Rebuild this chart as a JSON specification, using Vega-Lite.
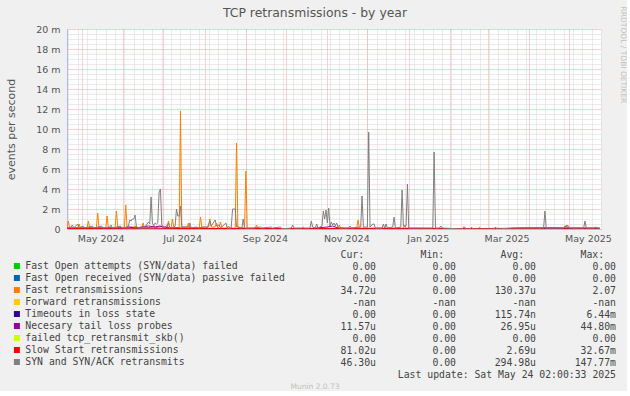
{
  "$schema": "https://vega.github.io/schema/vega-lite/v6.json",
  "background": "#f0f0f0",
  "padding": {"left": 5, "top": 6, "right": 0, "bottom": 0},
  "spacing": 6,
  "title": {"text": "RRDTOOL / TOBI OETIKER", "orient": "right", "anchor": "start", "fontSize": 7.5, "fontWeight": "normal", "color": "#c0c0c0", "offset": 2},
  "config": {
    "view": {"stroke": null},
    "font": "DejaVu Sans",
    "axis": {"labelFont": "DejaVu Sans", "titleFont": "DejaVu Sans"},
    "title": {"font": "DejaVu Sans"}
  },
  "datasets": {
    "fr": [
      {"t":"2024-04-20","v":0.0001},{"t":"2024-04-21","v":0.0008},{"t":"2024-04-22","v":0.0001},
      {"t":"2024-04-28","v":0.0001},{"t":"2024-04-29","v":0.0005},{"t":"2024-04-30","v":0.0001},
      {"t":"2024-05-05","v":0.0001},{"t":"2024-05-06","v":0.0008},{"t":"2024-05-07","v":0.0001},
      {"t":"2024-05-12","v":0.0001},{"t":"2024-05-13","v":0.0016},{"t":"2024-05-14","v":0.0001},
      {"t":"2024-05-19","v":0.0001},{"t":"2024-05-20","v":0.0013},{"t":"2024-05-21","v":0.0001},
      {"t":"2024-05-26","v":0.0001},{"t":"2024-05-27","v":0.0018},{"t":"2024-05-28","v":0.0002},
      {"t":"2024-06-02","v":0.0001},{"t":"2024-06-03","v":0.0024},{"t":"2024-06-04","v":0.0002},
      {"t":"2024-06-09","v":0.0002},{"t":"2024-06-10","v":0.0003},{"t":"2024-06-11","v":0.0001},
      {"t":"2024-06-15","v":0.0001},{"t":"2024-06-16","v":0.0006},{"t":"2024-06-17","v":0.0001},
      {"t":"2024-06-23","v":0.0002},{"t":"2024-06-24","v":0.0004},{"t":"2024-06-25","v":0.0001},
      {"t":"2024-06-30","v":0.0003},{"t":"2024-07-01","v":0.0001},
      {"t":"2024-07-04","v":0.0001},{"t":"2024-07-05","v":0.0008},{"t":"2024-07-06","v":0.0001},
      {"t":"2024-07-07","v":0.0001},{"t":"2024-07-08","v":0.0010},{"t":"2024-07-09","v":0.0002},
      {"t":"2024-07-13","v":0.0001},{"t":"2024-07-14","v":0.0118},{"t":"2024-07-15","v":0.0002},
      {"t":"2024-07-19","v":0.0002},{"t":"2024-07-20","v":0.0006},{"t":"2024-07-21","v":0.0001},
      {"t":"2024-07-28","v":0.0001},{"t":"2024-07-29","v":0.0012},{"t":"2024-07-30","v":0.0002},
      {"t":"2024-08-04","v":0.0002},{"t":"2024-08-05","v":0.0010},{"t":"2024-08-06","v":0.0002},
      {"t":"2024-08-09","v":0.0002},{"t":"2024-08-10","v":0.0006},{"t":"2024-08-11","v":0.0001},
      {"t":"2024-08-12","v":0.0002},{"t":"2024-08-13","v":0.0007},{"t":"2024-08-14","v":0.0001},
      {"t":"2024-08-18","v":0.0001},{"t":"2024-08-19","v":0.0003},{"t":"2024-08-20","v":0.0001},
      {"t":"2024-08-24","v":0.0001},{"t":"2024-08-25","v":0.0086},{"t":"2024-08-26","v":0.0002},
      {"t":"2024-08-31","v":0.0001},{"t":"2024-09-01","v":0.0058},{"t":"2024-09-02","v":0.0001},
      {"t":"2024-09-08","v":0.0001},{"t":"2024-09-09","v":0.0004},{"t":"2024-09-10","v":0.0001},
      {"t":"2024-09-20","v":0.0},{"t":"2024-10-15","v":0.0},
      {"t":"2024-11-09","v":0.0001},{"t":"2024-11-10","v":0.0004},{"t":"2024-11-11","v":0.0001},
      {"t":"2024-11-23","v":0.0001},{"t":"2024-11-24","v":0.0009},{"t":"2024-11-25","v":0.0001},
      {"t":"2024-12-28","v":0.0001},{"t":"2024-12-29","v":0.0004},{"t":"2024-12-30","v":0.0001},
      {"t":"2025-02-22","v":0.0},{"t":"2025-02-23","v":0.0002},{"t":"2025-02-24","v":0.0},
      {"t":"2025-04-28","v":0.0001},{"t":"2025-04-29","v":0.0004},{"t":"2025-04-30","v":0.0001},
      {"t":"2025-05-24","v":0.0001}
    ],
    "syn": [
      {"t":"2024-04-20","v":0.0001},{"t":"2024-04-23","v":0.0002},{"t":"2024-04-24","v":0.0004},{"t":"2024-04-25","v":0.0001},
      {"t":"2024-04-28","v":0.0005},{"t":"2024-04-29","v":0.0001},
      {"t":"2024-05-02","v":0.0003},{"t":"2024-05-03","v":0.0001},
      {"t":"2024-05-09","v":0.0003},{"t":"2024-05-10","v":0.0001},
      {"t":"2024-05-16","v":0.0003},{"t":"2024-05-17","v":0.0001},
      {"t":"2024-05-22","v":0.0002},{"t":"2024-05-23","v":0.0004},{"t":"2024-05-24","v":0.0001},
      {"t":"2024-05-30","v":0.0003},{"t":"2024-05-31","v":0.0001},
      {"t":"2024-06-04","v":0.0002},{"t":"2024-06-05","v":0.0003},{"t":"2024-06-06","v":0.0009},{"t":"2024-06-07","v":0.0008},{"t":"2024-06-08","v":0.0010},{"t":"2024-06-09","v":0.0010},{"t":"2024-06-10","v":0.0014},{"t":"2024-06-11","v":0.0002},
      {"t":"2024-06-14","v":0.0001},{"t":"2024-06-18","v":0.0003},{"t":"2024-06-19","v":0.0005},{"t":"2024-06-20","v":0.0007},{"t":"2024-06-21","v":0.0005},{"t":"2024-06-22","v":0.0032},{"t":"2024-06-23","v":0.0005},{"t":"2024-06-24","v":0.0004},{"t":"2024-06-25","v":0.0006},{"t":"2024-06-26","v":0.0005},{"t":"2024-06-27","v":0.0006},{"t":"2024-06-28","v":0.0037},{"t":"2024-06-29","v":0.0040},{"t":"2024-06-30","v":0.0004},
      {"t":"2024-07-01","v":0.0002},{"t":"2024-07-03","v":0.0002},{"t":"2024-07-05","v":0.0006},{"t":"2024-07-06","v":0.0001},{"t":"2024-07-09","v":0.0002},{"t":"2024-07-10","v":0.0003},{"t":"2024-07-11","v":0.0020},{"t":"2024-07-12","v":0.0013},{"t":"2024-07-13","v":0.0013},{"t":"2024-07-14","v":0.0023},{"t":"2024-07-15","v":0.0002},
      {"t":"2024-07-20","v":0.0002},{"t":"2024-07-21","v":0.0006},{"t":"2024-07-22","v":0.0001},
      {"t":"2024-07-26","v":0.0002},{"t":"2024-07-27","v":0.0001},{"t":"2024-08-02","v":0.0002},{"t":"2024-08-03","v":0.0001},{"t":"2024-08-05","v":0.0008},{"t":"2024-08-06","v":0.0003},{"t":"2024-08-09","v":0.0009},{"t":"2024-08-10","v":0.0003},{"t":"2024-08-12","v":0.0004},{"t":"2024-08-13","v":0.0001},{"t":"2024-08-17","v":0.0006},{"t":"2024-08-18","v":0.0001},
      {"t":"2024-08-21","v":0.0001},{"t":"2024-08-22","v":0.0020},{"t":"2024-08-23","v":0.0020},{"t":"2024-08-24","v":0.0020},{"t":"2024-08-25","v":0.0002},{"t":"2024-08-29","v":0.0001},{"t":"2024-08-30","v":0.0010},{"t":"2024-08-31","v":0.0001},
      {"t":"2024-09-06","v":0.0001},{"t":"2024-09-12","v":0.0002},{"t":"2024-09-13","v":0.0001},{"t":"2024-09-20","v":0.0002},{"t":"2024-09-21","v":0.0001},{"t":"2024-09-27","v":0.0002},{"t":"2024-09-28","v":0.0},
      {"t":"2024-10-05","v":0.0001},{"t":"2024-10-06","v":0.0004},{"t":"2024-10-07","v":0.0001},
      {"t":"2024-10-13","v":0.0001},{"t":"2024-10-14","v":0.0002},{"t":"2024-10-15","v":0.0001},
      {"t":"2024-10-19","v":0.0001},{"t":"2024-10-20","v":0.0008},{"t":"2024-10-21","v":0.0002},
      {"t":"2024-10-23","v":0.0001},{"t":"2024-10-24","v":0.0005},{"t":"2024-10-25","v":0.0001},
      {"t":"2024-10-28","v":0.0003},{"t":"2024-10-29","v":0.0018},{"t":"2024-10-30","v":0.0010},{"t":"2024-10-31","v":0.0019},{"t":"2024-11-01","v":0.0006},{"t":"2024-11-02","v":0.0021},{"t":"2024-11-03","v":0.0003},{"t":"2024-11-04","v":0.0007},{"t":"2024-11-05","v":0.0004},{"t":"2024-11-06","v":0.0006},{"t":"2024-11-07","v":0.0003},{"t":"2024-11-08","v":0.0006},{"t":"2024-11-09","v":0.0002},{"t":"2024-11-10","v":0.0001},
      {"t":"2024-11-17","v":0.0001},{"t":"2024-11-18","v":0.0003},{"t":"2024-11-19","v":0.0001},
      {"t":"2024-11-26","v":0.0002},{"t":"2024-11-27","v":0.0033},{"t":"2024-11-28","v":0.0002},
      {"t":"2024-12-01","v":0.0002},{"t":"2024-12-02","v":0.0097},{"t":"2024-12-03","v":0.0002},
      {"t":"2024-12-05","v":0.0005},{"t":"2024-12-06","v":0.0005},{"t":"2024-12-07","v":0.0001},
      {"t":"2024-12-12","v":0.0001},{"t":"2024-12-13","v":0.0005},{"t":"2024-12-14","v":0.0001},{"t":"2024-12-15","v":0.0005},{"t":"2024-12-16","v":0.0001},
      {"t":"2024-12-20","v":0.0002},{"t":"2024-12-21","v":0.0012},{"t":"2024-12-22","v":0.0001},
      {"t":"2024-12-26","v":0.0002},{"t":"2024-12-27","v":0.0039},{"t":"2024-12-28","v":0.0003},{"t":"2024-12-29","v":0.0002},{"t":"2024-12-30","v":0.0003},{"t":"2024-12-31","v":0.0045},{"t":"2025-01-01","v":0.0001},
      {"t":"2025-01-19","v":0.0001},{"t":"2025-01-20","v":0.0077},{"t":"2025-01-21","v":0.0001},
      {"t":"2025-01-24","v":0.0001},{"t":"2025-01-25","v":0.0003},{"t":"2025-01-26","v":0.0001},
      {"t":"2025-02-10","v":0.0},{"t":"2025-02-11","v":0.0002},{"t":"2025-02-12","v":0.0002},{"t":"2025-02-13","v":0.0},
      {"t":"2025-02-16","v":0.0},{"t":"2025-02-17","v":0.0002},{"t":"2025-02-18","v":0.0},
      {"t":"2025-03-06","v":0.0},{"t":"2025-03-07","v":0.0002},{"t":"2025-03-08","v":0.0},
      {"t":"2025-03-20","v":0.0001},{"t":"2025-03-27","v":0.0001},
      {"t":"2025-04-12","v":0.0001},{"t":"2025-04-13","v":0.0018},{"t":"2025-04-14","v":0.0001},
      {"t":"2025-04-27","v":0.0001},{"t":"2025-04-28","v":0.0003},{"t":"2025-04-29","v":0.0002},{"t":"2025-04-30","v":0.0004},{"t":"2025-05-01","v":0.0001},
      {"t":"2025-05-12","v":0.0001},{"t":"2025-05-13","v":0.0008},{"t":"2025-05-14","v":0.0001},
      {"t":"2025-05-20","v":0.0001},{"t":"2025-05-21","v":0.0002},{"t":"2025-05-22","v":0.0001},{"t":"2025-05-24","v":0.0001}
    ],
    "tlp": [
      {"t":"2024-04-20","v":0.0001},{"t":"2024-05-10","v":0.0001},{"t":"2024-05-20","v":0.0001},{"t":"2024-06-01","v":0.0001},{"t":"2024-06-05","v":0.0002},{"t":"2024-06-10","v":0.0001},{"t":"2024-06-15","v":0.0002},{"t":"2024-06-20","v":0.0003},{"t":"2024-06-25","v":0.0002},{"t":"2024-06-28","v":0.0003},{"t":"2024-07-02","v":0.0002},{"t":"2024-07-10","v":0.0001},{"t":"2024-07-25","v":0.0001},{"t":"2024-08-10","v":0.00005},{"t":"2024-09-01","v":0.0},{"t":"2024-10-15","v":0.0},{"t":"2024-11-01","v":0.0002},{"t":"2024-11-05","v":0.0003},{"t":"2024-11-09","v":0.0001},{"t":"2024-11-20","v":0.0},{"t":"2025-03-10","v":0.0},{"t":"2025-03-25","v":0.0001},{"t":"2025-04-20","v":0.0001},{"t":"2025-05-05","v":0.0},{"t":"2025-05-24","v":0.0}
    ],
    "ss": [
      {"t":"2024-04-20","v":0.00005},{"t":"2024-06-20","v":0.0001},{"t":"2024-07-15","v":0.00005},{"t":"2024-09-01","v":0.00003},{"t":"2025-02-01","v":0.00003},{"t":"2025-04-25","v":0.0001},{"t":"2025-05-24","v":0.00008}
    ],
    "to": [
      {"t":"2024-04-20","v":0.0},{"t":"2025-05-24","v":0.0}
    ]
  },
  "vconcat": [
    {
      "width": 534,
      "height": 200,
      "view": {"fill": "#ffffff", "stroke": null},
      "title": {"text": "TCP retransmissions - by year", "anchor": "middle", "frame": "group", "dx": -19, "offset": 5, "fontSize": 12.4, "fontWeight": "normal", "color": "#555555"},
      "encoding": {
        "y": {
          "field": "v", "type": "quantitative",
          "scale": {"domain": [0, 0.02], "nice": false, "zero": true},
          "axis": {
            "tickCount": 40, "grid": true,
            "gridColor": {"condition": {"test": "round(datum.value*2000) % 4 == 0", "value": "#f0a0a0"}, "value": "#d6d6d6"},
            "gridDash": [1, 1],
            "ticks": false, "tickSize": 0,
            "domainColor": "#b8b8e8",
            "labelExpr": "round(datum.value*2000) % 4 != 0 ? '' : (datum.value == 0 ? '0' : round(datum.value*1000) + ' m')",
            "labelOverlap": false, "labelPadding": 7, "labelFontSize": 9.5, "labelColor": "#555555",
            "title": "events per second", "titleFontSize": 11, "titleFontWeight": "normal", "titleColor": "#555555", "titlePadding": 19
          }
        }
      },
      "layer": [
        {
          "data": {"name": "fr"},
          "mark": {"type": "line", "strokeWidth": 1, "clip": true},
          "encoding": {
            "x": {
              "field": "t", "type": "temporal",
              "scale": {"type": "utc", "domain": [{"year": 2024, "month": 4, "date": 20, "utc": true}, {"year": 2025, "month": 5, "date": 25, "utc": true}], "nice": false},
              "axis": {"orient": "bottom", "tickCount": {"interval": "week", "step": 1}, "grid": true, "gridColor": "#d6d6d6", "gridDash": [1, 1], "labels": false, "ticks": false, "tickSize": 0, "domain": false, "title": null}
            },
            "color": {
              "datum": "Fast retransmissions", "type": "nominal",
              "scale": {
                "domain": ["Fast Open attempts (SYN/data) failed", "Fast Open received (SYN/data) passive failed", "Fast retransmissions", "Forward retransmissions", "Timeouts in loss state", "Necesary tail loss probes", "failed tcp_retransmit_skb()", "Slow Start retransmissions", "SYN and SYN/ACK retransmits"],
                "range": ["#00cc00", "#0066b3", "#ff8000", "#ffcc00", "#330099", "#990099", "#ccff00", "#ff0000", "#808080"]
              },
              "legend": {
                "orient": "none", "legendX": -55, "legendY": 231, "title": null, "direction": "vertical",
                "symbolType": "square", "symbolSize": 36, "symbolStrokeWidth": 0,
                "labelFont": "DejaVu Sans Mono", "labelFontSize": 9.8, "labelColor": "#444444", "labelOffset": 3.5, "labelLimit": 400,
                "rowPadding": 0, "clipHeight": 12, "padding": 0,
                "encode": {"symbols": {"update": {"fill": {"scale": "color", "field": "value"}, "fillOpacity": {"value": 1}, "stroke": {"value": "transparent"}}}}
              }
            }
          }
        },
        {
          "data": {"name": "to"},
          "mark": {"type": "line", "strokeWidth": 1, "clip": true},
          "encoding": {
            "x": {"field": "t", "type": "temporal", "axis": null},
            "color": {"datum": "Timeouts in loss state", "type": "nominal"}
          }
        },
        {
          "data": {"name": "tlp"},
          "mark": {"type": "line", "strokeWidth": 1, "clip": true},
          "encoding": {
            "x": {"field": "t", "type": "temporal", "axis": null},
            "color": {"datum": "Necesary tail loss probes", "type": "nominal"}
          }
        },
        {
          "data": {"name": "ss"},
          "mark": {"type": "line", "strokeWidth": 1, "clip": true},
          "encoding": {
            "x": {"field": "t", "type": "temporal", "axis": null},
            "color": {"datum": "Slow Start retransmissions", "type": "nominal"}
          }
        },
        {
          "data": {"name": "syn"},
          "mark": {"type": "line", "strokeWidth": 1, "clip": true},
          "encoding": {
            "x": {
              "field": "t", "type": "temporal",
              "axis": {
                "orient": "bottom", "tickCount": {"interval": "month", "step": 1}, "grid": true, "gridColor": "#f0a0a0", "gridDash": [1, 1],
                "ticks": false, "tickSize": 0, "domain": true, "domainColor": "#b8b8e8",
                "labelExpr": "utcmonth(datum.value) % 2 == 0 ? utcFormat(datum.value, '%b %Y') : ''",
                "labelOffset": 19, "labelOverlap": false, "labelFlush": false, "labelBound": false, "labelPadding": 4,
                "labelFontSize": 9.5, "labelColor": "#555555", "title": null
              }
            },
            "color": {"datum": "SYN and SYN/ACK retransmits", "type": "nominal"}
          }
        }
      ],
      "resolve": {"axis": {"x": "independent"}}
    },
    {
      "width": 550,
      "height": 120,
      "data": {"values": [
        {"row": "Fast Open attempts (SYN/data) failed", "cur": "0.00\u00a0", "min": "0.00\u00a0", "avg": "0.00\u00a0", "max": "0.00\u00a0"},
        {"row": "Fast Open received (SYN/data) passive failed", "cur": "0.00\u00a0", "min": "0.00\u00a0", "avg": "0.00\u00a0", "max": "0.00\u00a0"},
        {"row": "Fast retransmissions", "cur": "34.72u", "min": "0.00\u00a0", "avg": "130.37u", "max": "2.07\u00a0"},
        {"row": "Forward retransmissions", "cur": "-nan\u00a0", "min": "-nan\u00a0", "avg": "-nan\u00a0", "max": "-nan\u00a0"},
        {"row": "Timeouts in loss state", "cur": "0.00\u00a0", "min": "0.00\u00a0", "avg": "115.74n", "max": "6.44m"},
        {"row": "Necesary tail loss probes", "cur": "11.57u", "min": "0.00\u00a0", "avg": "26.95u", "max": "44.80m"},
        {"row": "failed tcp_retransmit_skb()", "cur": "0.00\u00a0", "min": "0.00\u00a0", "avg": "0.00\u00a0", "max": "0.00\u00a0"},
        {"row": "Slow Start retransmissions", "cur": "81.02u", "min": "0.00\u00a0", "avg": "2.69u", "max": "32.67m"},
        {"row": "SYN and SYN/ACK retransmits", "cur": "46.30u", "min": "0.00\u00a0", "avg": "294.98u", "max": "147.77m"},
        {"row": "footer", "cur": "", "min": "", "avg": "", "max": "Last update: Sat May 24 02:00:33 2025"}
      ]},
      "transform": [{"fold": ["cur", "min", "avg", "max"], "as": ["stat", "txt"]}],
      "mark": {"type": "text", "align": "right", "baseline": "middle", "font": "DejaVu Sans Mono", "fontSize": 9.8, "color": "#444444"},
      "encoding": {
        "x": {
          "field": "stat", "type": "nominal",
          "scale": {"type": "point", "padding": 0, "domain": ["cur", "min", "avg", "max"], "range": [309, 549]},
          "axis": {"orient": "top", "title": null, "ticks": false, "tickSize": 0, "domain": false, "grid": false, "labelAngle": 0, "labelAlign": "left", "labelBaseline": "bottom", "labelOffset": -36, "labelPadding": 2, "labelFont": "DejaVu Sans Mono", "labelFontSize": 9.8, "labelColor": "#444444", "labelExpr": "upper(slice(datum.value, 0, 1)) + slice(datum.value, 1) + ':'"}
        },
        "y": {
          "field": "row", "type": "nominal",
          "scale": {"type": "point", "padding": 0.5, "domain": ["Fast Open attempts (SYN/data) failed", "Fast Open received (SYN/data) passive failed", "Fast retransmissions", "Forward retransmissions", "Timeouts in loss state", "Necesary tail loss probes", "failed tcp_retransmit_skb()", "Slow Start retransmissions", "SYN and SYN/ACK retransmits", "footer"]},
          "axis": null
        },
        "text": {"field": "txt", "type": "nominal"}
      },
      "title": {"text": "Munin 2.0.73", "orient": "bottom", "anchor": "middle", "frame": "group", "dx": -27, "offset": 2, "fontSize": 7.5, "fontWeight": "normal", "color": "#c0c0c0"}
    }
  ]
}
